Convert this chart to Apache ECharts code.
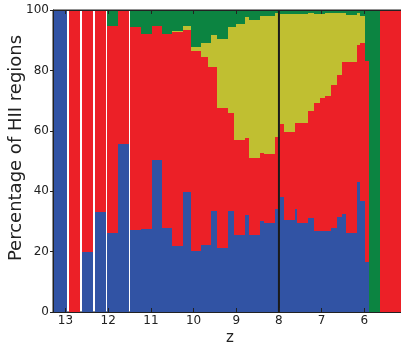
<!DOCTYPE html>
<html>
<head>
<meta charset="utf-8">
<script src="https://cdn.jsdelivr.net/npm/echarts@6/dist/echarts.min.js"></script>
<style>
html,body{margin:0;padding:0;background:#fff;}
#chart{width:401px;height:347px;}
</style>
</head>
<body>
<div id="chart"></div>
<script>
// Redshift bins (left edge = higher z, right edge = lower z)
const zStart = [13.293,12.918,12.614,12.309,12.035,11.778,11.489,11.232,10.974,10.740,10.513,10.255,10.061,9.827,9.656,9.600,9.459,9.187,9.054,9.007,8.796,8.696,8.445,8.344,8.094,7.977,7.883,7.625,7.585,7.321,7.169,7.040,6.911,6.782,6.635,6.518,6.438,6.180,6.103,5.986,5.892,5.635];
const zEnd   = [12.972,12.667,12.356,12.052,11.778,11.506,11.232,10.974,10.740,10.513,10.255,10.061,9.827,9.656,9.600,9.459,9.187,9.054,9.007,8.796,8.696,8.445,8.344,8.094,7.977,7.883,7.625,7.585,7.321,7.169,7.040,6.911,6.782,6.635,6.518,6.438,6.180,6.103,5.986,5.892,5.635,5.0];
// Percentages per class (stacked bottom to top)
const bluePct   = [100,0,20.0,33.2,26.0,55.6,27.2,27.4,50.3,27.8,21.9,39.7,20.3,22.2,22.2,33.4,21.1,33.4,25.5,25.5,32.1,25.5,30.1,29.4,34.0,38.0,30.5,34.0,29.6,31.2,26.8,26.8,26.8,27.7,31.4,32.5,26.3,43.2,36.8,16.7,0,0];
const redPct    = [0,100,80.0,66.8,68.8,44.4,67.1,64.8,44.5,64.4,70.9,53.7,66.2,62.4,59.0,47.8,46.6,32.6,31.5,31.5,25.6,25.6,22.4,22.9,24.1,24.3,29.2,28.5,32.9,35.4,42.3,44.0,44.7,47.5,47.1,50.4,56.6,45.2,52.2,66.4,0,100];
const yellowPct = [0,0,0,0,0,0,0,0,0,0,0.4,1.3,1.4,4.6,8.0,10.5,22.7,28.3,37.3,38.4,40.1,45.6,45.5,45.7,40.8,36.5,38.9,36.1,36.1,32.3,29.7,28.0,27.4,23.7,20.4,16.0,15.4,10.5,9.0,0,0,0];
const greenPct  = [0,0,0,0,5.2,0,5.7,7.8,5.2,7.8,6.8,5.3,12.1,10.8,10.8,8.3,9.6,5.7,5.7,4.6,2.2,3.3,2.0,2.0,1.1,1.2,1.4,1.4,1.4,1.1,1.2,1.2,1.1,1.1,1.1,1.1,1.7,1.1,2.0,16.9,100,0];
const xTicks = [13,12,11,10,9,8,7,6];
const yTicks = [0,20,40,60,80,100];
const markZ = 8;
const classColors = ['#3153a4','#ec2027','#c0bf31','#0c8441'];

const data = zStart.map((s,i)=>[s, zEnd[i], bluePct[i], redPct[i], yellowPct[i], greenPct[i]]);

function renderItem(params, api){
  const xa = Math.round(api.coord([api.value(0), 0])[0]);
  const xb = Math.round(api.coord([api.value(1), 0])[0]);
  const vals = [api.value(2), api.value(3), api.value(4), api.value(5)];
  const children = [];
  let cum = 0;
  for (let k=0;k<4;k++){
    if (vals[k] <= 0) continue;
    const yBot = Math.round(api.coord([0, cum])[1]);
    cum += vals[k];
    const yTop = Math.round(api.coord([0, Math.min(cum,100)])[1]);
    children.push({type:'rect', shape:{x:Math.min(xa,xb), y:yTop, width:Math.abs(xb-xa), height:yBot-yTop}, style:{fill:classColors[k]}});
  }
  return {type:'group', children};
}

const chart = echarts.init(document.getElementById('chart'), null, {renderer:'canvas'});
chart.setOption({
  animation:false,
  backgroundColor:'#fff',
  grid:{left:53, top:10, width:354, height:302, outerBoundsMode:'none', containLabel:false,
        show:true, borderColor:'#222', borderWidth:1, backgroundColor:'transparent'},
  xAxis:[{
    type:'value', inverse:true, min:5, max:13.293, interval:1, z:5,
    name:'z', nameLocation:'middle', nameGap:19, nameMoveOverlap:false,
    nameTextStyle:{fontFamily:'DejaVu Sans', fontSize:15, color:'#222'},
    axisLine:{show:true, onZero:false, lineStyle:{color:'#222', width:1}},
    axisTick:{show:true, inside:true, length:4, lineStyle:{color:'#222'}, customValues:xTicks},
    axisLabel:{fontFamily:'DejaVu Sans', fontSize:12, color:'#222', margin:3, customValues:xTicks,
      formatter:v=>xTicks.includes(v)?String(v):''},
    splitLine:{show:false}
  },{
    type:'value', inverse:true, min:5, max:13.293, interval:1, position:'top', z:5,
    axisLine:{show:true, onZero:false, lineStyle:{color:'#222', width:1}},
    axisTick:{show:true, inside:true, length:4, lineStyle:{color:'#222'}, customValues:xTicks},
    axisLabel:{show:false},
    splitLine:{show:false}
  }],
  yAxis:{
    type:'value', min:0, max:100, interval:20, z:5,
    name:'Percentage of HII regions', nameLocation:'middle', nameGap:28, nameMoveOverlap:false,
    nameTextStyle:{fontFamily:'DejaVu Sans', fontSize:18, color:'#222', padding:[0,0,0,26]},
    axisLine:{show:true, lineStyle:{color:'#222', width:1}},
    axisTick:{show:true, inside:false, length:3, lineStyle:{color:'#222'}},
    axisLabel:{fontFamily:'DejaVu Sans', fontSize:12, color:'#222', margin:4},
    splitLine:{show:false}
  },
  series:[{
    type:'custom', renderItem, data, clip:true, xAxisIndex:0,
    encode:{x:[0,1], y:[2]}
  },{
    type:'line', xAxisIndex:0, data:[[markZ,0],[markZ,100]], symbol:'none', z:4,
    lineStyle:{color:'#1a1a1a', width:2}, silent:true
  }]
});
</script>
</body>
</html>
